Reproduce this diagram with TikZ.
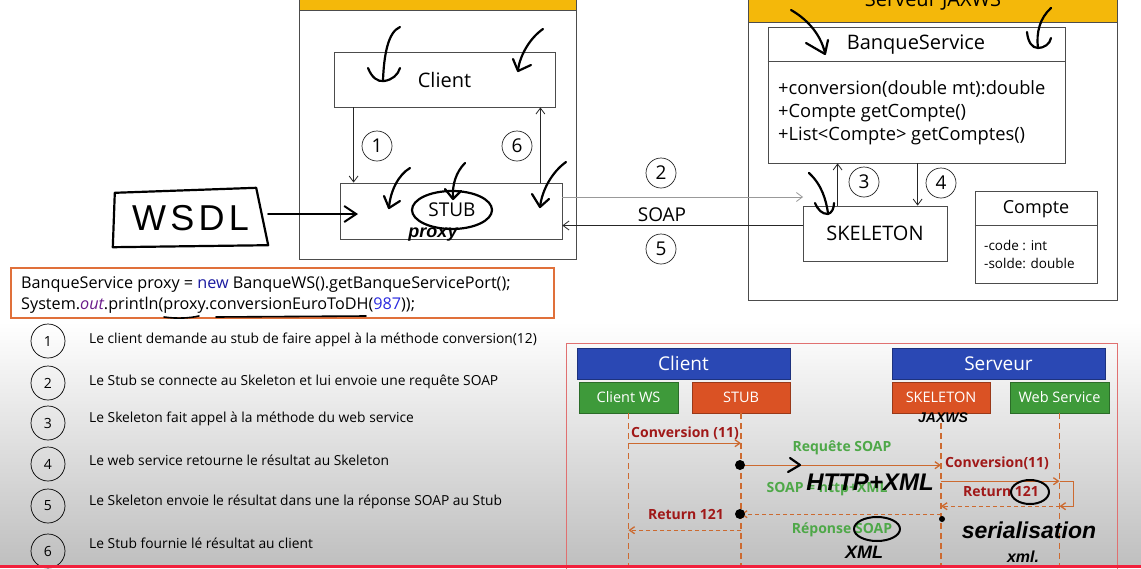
\documentclass[tikz,border=0pt]{standalone}
\usepackage{fontspec}
\setmainfont{Open Sans}
\newfontfamily\handf{Liberation Sans}
\usetikzlibrary{arrows.meta,shapes.geometric,calc}
\definecolor{ybar}{HTML}{F4B80A}
\definecolor{codeborder}{HTML}{E0703A}
\definecolor{newc}{HTML}{1A1AA0}
\definecolor{outc}{HTML}{6A1B8A}
\definecolor{numcol}{HTML}{2A2AE0}
\definecolor{seqblue}{HTML}{2A48B4}
\definecolor{seqgreen}{HTML}{3E9A3A}
\definecolor{seqorange}{HTML}{DA5224}
\definecolor{lifeline}{HTML}{CC6A30}
\definecolor{darkred}{HTML}{A01818}
\definecolor{lblgreen}{HTML}{4EA848}
\definecolor{seqframe}{HTML}{E07070}
\definecolor{ytred}{HTML}{F2203C}
\newcommand\myfs[2]{\fontsize{#1}{#2}\selectfont}
\begin{document}
\begin{tikzpicture}[x=1pt,y=-1pt,
  box/.style={draw=black!70, line width=0.8pt, fill=white, inner sep=0pt},
  numc/.style={circle, draw=black!85, line width=0.7pt, inner sep=0pt, minimum size=30pt, font=\myfs{19}{22}},
  lnum/.style={circle, draw=black, line width=0.7pt, inner sep=0pt, minimum size=34pt, font=\myfs{14}{16}},
  litem/.style={anchor=west, inner sep=0pt, font=\myfs{13.8}{16}},
  arr/.style={draw=black!85, line width=0.8pt, -{Straight Barb[length=6pt,width=9pt]}},
  hand/.style={draw=black, line width=2.2pt, line cap=round, line join=round},
  handtxt/.style={font=\handf\bfseries\itshape\myfs{18}{20}, inner sep=0pt},
  seqhead/.style={fill=seqblue, draw=seqblue!70!black, text=white, minimum width=213pt, minimum height=31pt, inner sep=0pt, font=\myfs{19}{22}},
  seqgbox/.style={fill=seqgreen, draw=seqgreen!70!black, text=white, minimum width=99pt, minimum height=31pt, inner sep=0pt, font=\myfs{14.5}{17}},
  seqobox/.style={fill=seqorange, draw=seqorange!70!black, text=white, minimum width=98pt, minimum height=31pt, inner sep=0pt, font=\myfs{14.5}{17}},
  life/.style={draw=lifeline, line width=1.2pt, dash pattern=on 6pt off 4pt},
  msg/.style={draw=lifeline, line width=1.3pt, -{Straight Barb[length=5pt,width=7pt]}},
  dmsg/.style={msg, dash pattern=on 4pt off 3pt},
  redlbl/.style={text=darkred, font=\bfseries\myfs{14}{16}, inner sep=0pt},
  greenlbl/.style={text=lblgreen, font=\bfseries\myfs{14}{16}, inner sep=0pt}
]
\useasboundingbox (0,0) rectangle (1141,568);
\fill[white] (0,0) rectangle (1141,568);
\shade[top color=white, bottom color=gray!50] (0,322) rectangle (1141,565);

% ---------------- client container ----------------
\node[box, minimum width=277pt, minimum height=279pt] (clientc) at (437.5,119.5) {};
\node[fill=ybar, draw=black!70, line width=0.8pt, minimum width=277pt, minimum height=30pt, inner sep=0pt] (clienthead) at (437.5,-5) {};
\node[box, minimum width=221pt, minimum height=55pt, font=\myfs{20}{24}] (client) at (444.5,79.5) {Client};
\node[box, minimum width=222pt, minimum height=56pt] (stub) at (451,211) {};
\node[font=\myfs{19}{22}, inner sep=0pt] (stublbl) at (452,210) {STUB};
\node[handtxt] (proxy) at (433,235) {proxy};

\draw[arr] ([xshift=20pt]client.south west) -- ([xshift=14pt]stub.north west);
\draw[arr] ([xshift=-22pt]stub.north east) -- ([xshift=-15pt]client.south east);
\node[numc] (n1) at (377,146) {1};
\node[numc] (n6) at (517,146) {6};

% ---------------- server container ----------------
\node[box, minimum width=369pt, minimum height=320pt] (serverc) at (932.5,140) {};
\node[fill=ybar, draw=black!70, line width=0.8pt, minimum width=369pt, minimum height=42pt, inner sep=0pt] (serverhead) at (932.5,1) {};
\node[anchor=base, font=\myfs{20}{24}, inner sep=0pt] (servertitle) at (933,6) {Serveur JAXWS};

\node[box, minimum width=297pt, minimum height=136pt] (banque) at (916.5,95) {};
\draw[draw=black!70, line width=0.8pt] ([yshift=-35pt]banque.north west) -- ([yshift=-35pt]banque.north east);
\node[font=\myfs{20}{24}, inner sep=0pt] (banquetitle) at (916,45) {BanqueService};
\node[anchor=west, align=left, inner sep=0pt, font=\myfs{18.3}{23}] (methods) at (778,113)
  {+conversion(double mt):double\\+Compte getCompte()\\+List<Compte> getComptes()};

\node[box, minimum width=144pt, minimum height=55pt, font=\myfs{20}{24}] (skeleton) at (875,233.5) {SKELETON};

\node[box, minimum width=122pt, minimum height=92pt] (compte) at (1036,237) {};
\draw[draw=black!70, line width=0.8pt] ([yshift=-35pt]compte.north west) -- ([yshift=-35pt]compte.north east);
\node[font=\myfs{18}{22}, inner sep=0pt] (comptetitle) at (1036,209) {Compte};
\node[anchor=west, align=left, inner sep=0pt, font=\myfs{13.5}{18}] (comptefields) at (984,254.5) {-code : int\\-solde: double};

\draw[arr] ([xshift=35pt]skeleton.north west) -- ([xshift=35pt]skeleton.north west |- banque.south);
\draw[arr] ([xshift=150pt]banque.south west) -- ([xshift=150pt]banque.south west |- skeleton.north);
\node[numc] (n3) at (864,182) {3};
\node[numc] (n4) at (941,183) {4};

% ---------------- SOAP link ----------------
\coordinate (a2end) at (803,197);
\draw[arr, draw=black!40] (stub.north east |- a2end) -- (a2end);
\draw[arr] ([yshift=8pt]skeleton.west) -- ([yshift=8pt]skeleton.west -| stub.east);
\node[numc] (n2) at (661,173) {2};
\node[font=\myfs{19}{22}, inner sep=0pt] (soap) at (662,215) {SOAP};
\node[numc] (n5) at (661,249) {5};

% ---------------- WSDL (handwritten) ----------------
\node[minimum width=155pt, minimum height=58pt, inner sep=0pt, font=\handf\myfs{36}{40}\addfontfeature{LetterSpace=12}] (wsdl) at (190.5,218) {WSDL};
\draw[hand] ([shift={(2pt,-4pt)}]wsdl.north west) -- ([shift={(-12pt,1pt)}]wsdl.north east)
  -- ([yshift=2pt]wsdl.south east) -- (wsdl.south west) -- cycle;
\coordinate (stubin) at (358,214);
\draw[hand, line width=2pt, -{Straight Barb[length=12pt,width=16pt,line width=2pt]}] ([yshift=4pt]wsdl.east) -- (stubin);
\draw[hand] (stublbl) ellipse [x radius=40pt, y radius=19pt];

% handwritten arrows in the top part
\draw[hand] (400,27) .. controls (388,32) and (384,55) .. (383,80);
\draw[hand] (368,68) .. controls (372,78) and (378,82) .. (384,81) .. controls (392,80) and (398,75) .. (400,68);
\draw[hand] (543,29) .. controls (530,38) and (520,55) .. (518,70);
\draw[hand] (513,59) -- (518,71) -- (531,65);
\draw[hand] (410,168) .. controls (398,175) and (390,192) .. (389,208);
\draw[hand] (384,196) -- (389,208) -- (400,201);
\draw[hand] (465,163) .. controls (456,172) and (452,185) .. (453,198);
\draw[hand] (445,189) -- (453,199) -- (461,191);
\draw[hand] (566,162) .. controls (552,172) and (542,190) .. (540,207);
\draw[hand] (532,194) -- (540,207) -- (549,199);
\draw[hand] (791,10) .. controls (805,18) and (820,32) .. (825,53);
\draw[hand] (806,43) -- (825,54) -- (828,40);
\draw[hand] (1051,8) .. controls (1040,18) and (1036,32) .. (1038,48);
\draw[hand] (1027,32) .. controls (1028,42) and (1032,48) .. (1038,48) .. controls (1044,48) and (1050,44) .. (1051,38);
\draw[hand] (809,173) .. controls (822,185) and (826,200) .. (828,213);
\draw[hand] (815,203) .. controls (818,210) and (822,214) .. (828,214) .. controls (832,213) and (834,208) .. (834,203);

% ---------------- code box ----------------
\node[draw=codeborder, line width=1.3pt, fill=white, minimum width=543pt, minimum height=50pt, inner sep=0pt] (code) at (282.5,293) {};
\node[anchor=west, align=left, inner sep=0pt, font=\myfs{16.2}{20.5}] (codetxt) at (21,295)
  {BanqueService proxy = \textcolor{newc}{new} BanqueWS().getBanqueServicePort();\\
   System.\textcolor{outc}{\itshape out}.println(proxy.conversionEuroToDH(\textcolor{numcol}{987}));};
\draw[line width=1.6pt, line cap=round] (164,317) .. controls (178,319) and (190,318) .. (199,316);
\draw[line width=1.6pt, line cap=round] (216,317) -- (366,316);

% ---------------- numbered list ----------------
\node[lnum] (l1) at (48,341) {1};
\node[litem] (t1) at (89,340) {Le client demande au stub de faire appel à la méthode conversion(12)};
\node[lnum] (l2) at (48,383) {2};
\node[litem] (t2) at (89,382) {Le Stub se connecte au Skeleton et lui envoie une requête SOAP};
\node[lnum] (l3) at (48,423) {3};
\node[litem] (t3) at (89,419) {Le Skeleton fait appel à la méthode du web service};
\node[lnum] (l4) at (48,464) {4};
\node[litem] (t4) at (89,460) {Le web service retourne le résultat au Skeleton};
\node[lnum] (l5) at (48,506) {5};
\node[litem] (t5) at (89,502) {Le Skeleton envoie le résultat dans une la réponse SOAP au Stub};
\node[lnum] (l6) at (48,551) {6};
\node[litem] (t6) at (89,543) {Le Stub fournie lé résultat au client};

% ---------------- sequence diagram ----------------
\node[draw=seqframe, line width=1pt, minimum width=551pt, minimum height=240pt, inner sep=0pt] (seqframe) at (841.5,463) {};
\node[seqhead] (cbar) at (683.5,363.5) {Client};
\node[seqhead] (sbar) at (998.5,363.5) {Serveur};
\node[seqgbox] (cws) at (628.5,397.5) {Client WS};
\node[seqobox] (sstub) at (741,397.5) {STUB};
\node[seqobox] (sskel) at (941,397.5) {SKELETON};
\node[seqgbox] (sws) at (1059.5,397.5) {Web Service};

\coordinate (cwsend) at (628.5,568);
\coordinate (stubend) at (741,568);
\coordinate (skelend) at (941,568);
\coordinate (wsend) at (1059.5,568);
\draw[life] (cws.south) -- (cwsend);
\draw[life] (sstub.south) -- (stubend);
\draw[life] (sskel.south) -- (skelend);
\draw[life] (sws.south) -- (wsend);

\draw[msg] ([yshift=-30pt]cws.south) -- ([yshift=-30pt]sstub.south);
\node[redlbl] (m1) at (685,433) {Conversion (11)};
\draw[msg] ([yshift=-52pt]sstub.south) -- ([yshift=-52pt]sskel.south);
\node[greenlbl] (m2) at (842,448) {Requête SOAP};
\draw[msg] ([yshift=-68pt]sskel.south) -- ([yshift=-68pt]sws.south);
\draw[msg] ([yshift=-68pt]sws.south) -- ++(14,0) -- ++(0,25) -- ([yshift=-93pt]sws.south);
\node[redlbl] (m3) at (997,463) {Conversion(11)};
\draw[dmsg] ([yshift=-93pt]sws.south) -- ([yshift=-93pt]sskel.south);
\node[redlbl] (m4) at (1001,491) {Return 121};
\node[greenlbl] (m5) at (827,489) {SOAP = http+XML};
\draw[dmsg] ([yshift=-101pt]sskel.south) -- ([yshift=-101pt]sstub.south);
\node[redlbl] (m6) at (686,514) {Return 121};
\draw[dmsg] ([yshift=-117pt]sstub.south) -- ([yshift=-117pt]cws.south);
\node[greenlbl] (m7) at (842,530) {Réponse SOAP};

% handwritten notes on the sequence diagram
\fill (740,465) circle [radius=5pt];
\fill (740,514) circle [radius=5pt];
\fill (942,519) circle [radius=3pt];
\node[handtxt, font=\handf\bfseries\itshape\myfs{14}{16}] (jaxws) at (943,418) {JAXWS};
\draw[hand] (790,458) -- (800,465) -- (788,472);
\node[handtxt, font=\handf\bfseries\itshape\myfs{24}{26}] (httpxml) at (870,482) {HTTP+XML};
\draw[hand, line width=2pt] (1030,492) ellipse [x radius=19pt, y radius=12pt];
\draw[hand, line width=2pt] (877,529) ellipse [x radius=23pt, y radius=12pt];
\node[handtxt] (xml1) at (864,552) {XML};
\node[handtxt, font=\handf\bfseries\itshape\myfs{23}{25}] (serial) at (1029,530) {serialisation};
\node[handtxt, font=\handf\bfseries\itshape\myfs{16}{18}] (xml2) at (1023,557) {xml.};

\fill[ytred] (0,565) rectangle (1141,568);
\end{tikzpicture}
\end{document}
